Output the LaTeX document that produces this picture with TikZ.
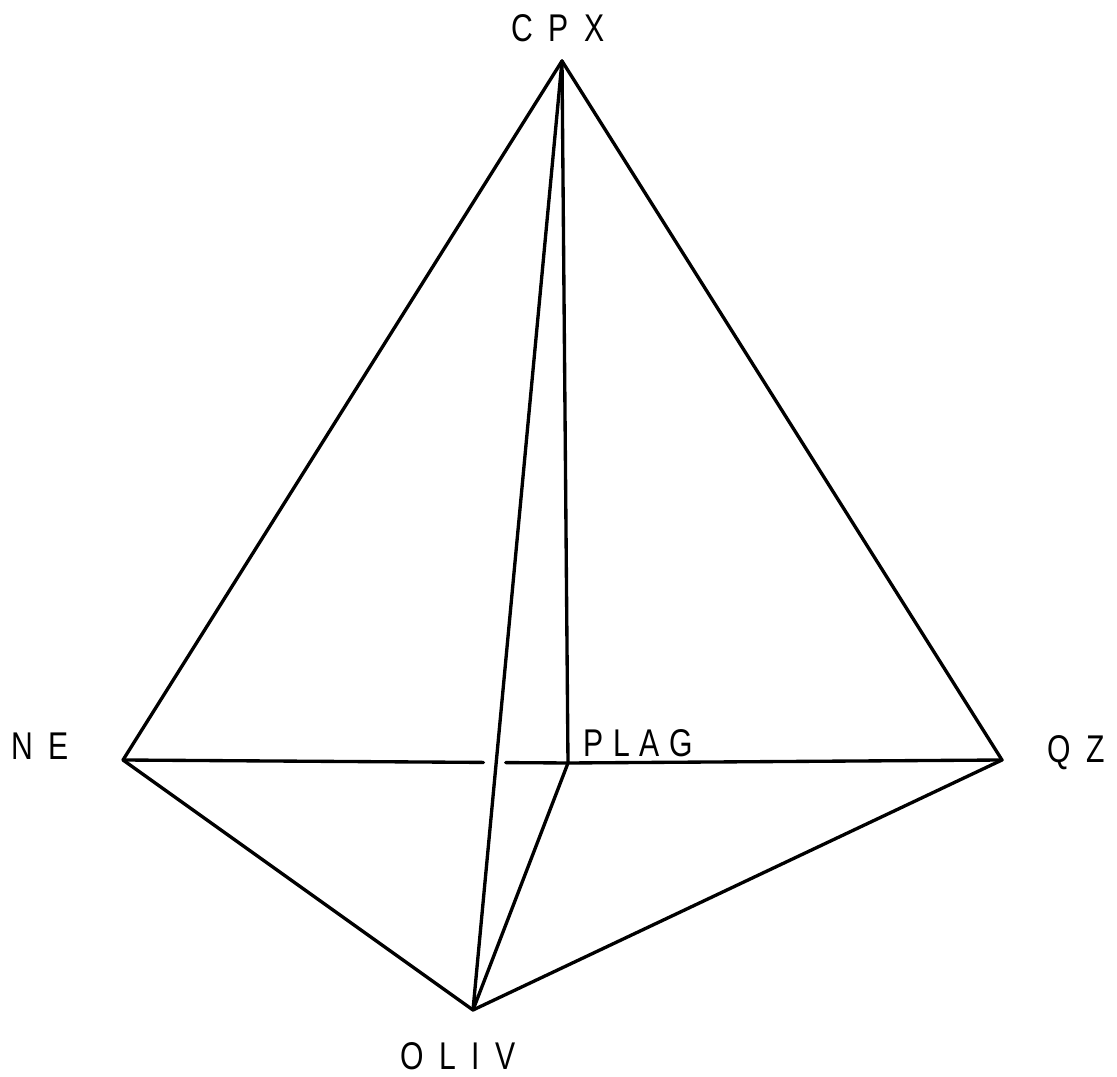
\documentclass[tikz,border=0pt]{standalone}
\usepackage{fontspec}
\setmainfont{Liberation Sans}
\usetikzlibrary{calc}
\tikzset{
	edge/.style={line width=1.9pt, line cap=round, line join=round},
	vlabel/.style={font=\fontsize{22}{24}\selectfont\addfontfeature{FakeStretch=0.78, LetterSpace=40}, inner sep=0pt, anchor=base},
	tightlabel/.style={vlabel, font=\fontsize{22}{24}\selectfont\addfontfeature{FakeStretch=0.78, LetterSpace=25}, anchor=base west}
}

\begin{document}
\begin{tikzpicture}[x=0.02cm, y=-0.02cm]
			\useasboundingbox (0,0) rectangle (1117,1077);
			% Vertices
			\coordinate (cpx) at (562,61);
			\coordinate (ne) at (123,760);
			\coordinate (plag) at (568,763);
			\coordinate (qz) at (1002,760);
			\coordinate (oliv) at (473,1010);
			% Labels
			\node[vlabel] (cpxlab) at (558,42) {CPX};
			\node[vlabel] (nelab) at (40,760) {NE};
			\node[tightlabel] (plaglab) at (583,757) {PLAG};
			\node[vlabel] (qzlab) at (1076,763) {QZ};
			\node[vlabel] (olivlab) at (458,1070) {OLIV};
			% Outer edges
			\draw[edge] (cpx) -- (ne) -- (oliv) -- (qz) -- cycle;
			% Inner edges
			\draw[edge] (cpx) -- (plag) -- (qz);
			\draw[edge] (cpx) -- (oliv) -- (plag);
			% Hidden edge, broken where it passes behind
			\draw[edge] (ne) -- ($(ne)!0.81!(plag)$);
			\draw[edge] ($(ne)!0.86!(plag)$) -- (plag);
		\end{tikzpicture}
\end{document}
